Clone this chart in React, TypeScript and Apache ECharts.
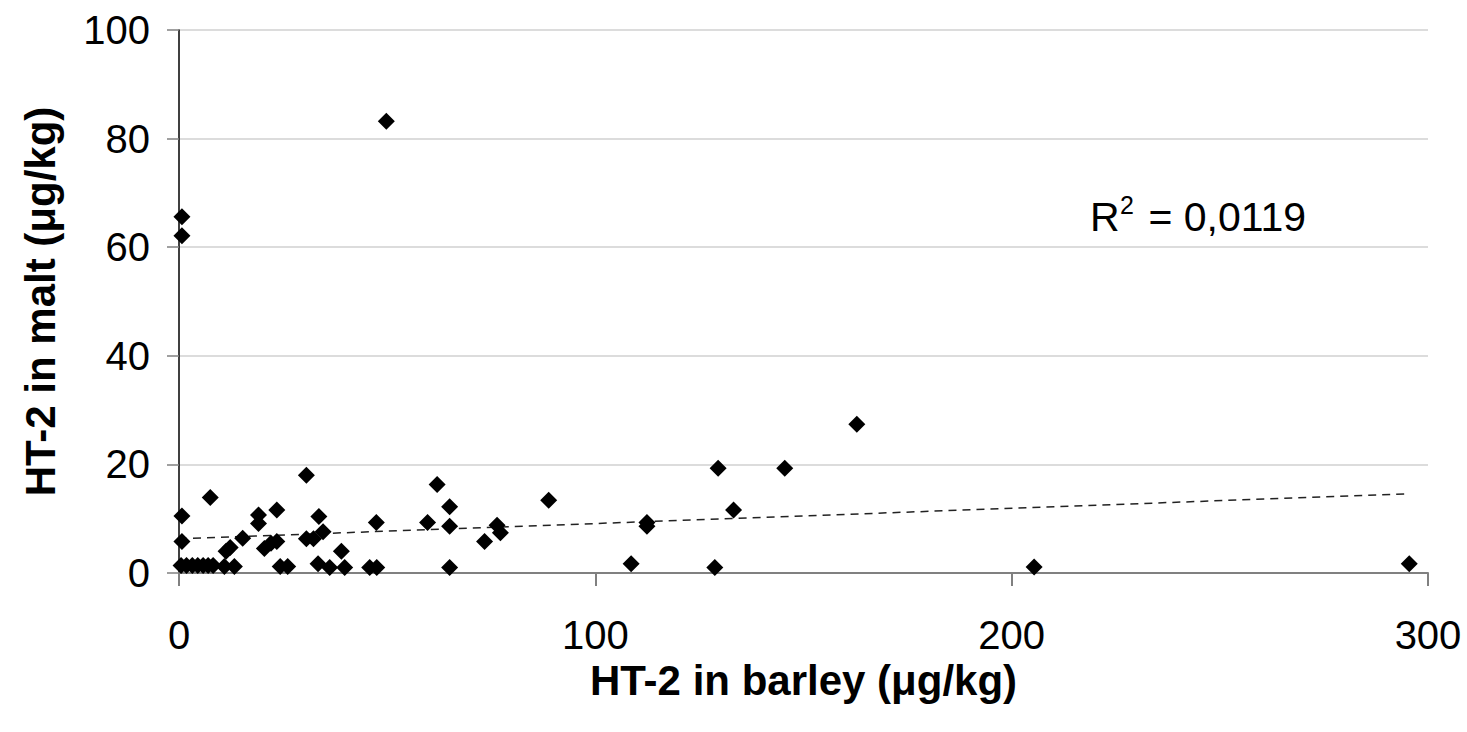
import React, { useEffect, useRef } from "react";
import * as echarts from "echarts";

// HT-2 in barley (x) vs HT-2 in malt (y), µg/kg
const barleyValues: number[] = [
  0.7, 0.7, 0.7, 0.7,
  0.5, 1.8, 3.2, 4.5, 5.8, 7.0, 8.2,
  7.5, 11.3, 12.3, 10.9, 13.3, 15.3, 19.1, 19.1, 20.5, 22.1,
  23.5, 23.5, 24.3, 26.1, 30.6, 30.6, 32.3, 33.6, 34.6, 33.4,
  36.2, 39.0, 39.8, 45.8, 47.5, 47.4, 49.8, 59.7, 62.0, 65.0,
  65.0, 65.0, 73.4, 76.4, 77.2, 88.8, 108.6, 112.4, 112.4, 128.7,
  129.5, 133.2, 145.5, 162.8, 205.4, 295.5,
];
const maltValues: number[] = [
  65.6, 62.1, 10.5, 5.8,
  1.4, 1.4, 1.4, 1.4, 1.4, 1.4, 1.4,
  13.9, 4.0, 4.7, 1.2, 1.2, 6.4, 10.7, 9.1, 4.5, 5.5,
  5.8, 11.6, 1.2, 1.2, 18.0, 6.3, 6.3, 10.4, 7.6, 1.7,
  1.0, 4.0, 1.0, 1.0, 1.0, 9.3, 83.2, 9.3, 16.3, 12.2,
  8.6, 1.0, 5.8, 8.8, 7.4, 13.4, 1.7, 9.3, 8.6, 1.0,
  19.3, 11.6, 19.3, 27.4, 1.1, 1.7,
];

// Linear trend line endpoints (as drawn in the reference)
const trendX: number[] = [0, 295.5];
const trendY: number[] = [6.3, 14.6];

const xTicks = { min: 0, max: 300, interval: 100 };
const yTicks = { min: 0, max: 100, interval: 20 };

const xTitle = "HT-2 in barley (μg/kg)";
const yTitle = "HT-2 in malt (μg/kg)";
const r2Label = "0,0119";

export default function App() {
  const ref = useRef<HTMLDivElement>(null);

  useEffect(() => {
    if (!ref.current) return;
    const chart = echarts.init(ref.current, undefined, { renderer: "svg" });
    const font = "'Liberation Sans', Arial, sans-serif";
    const points = barleyValues.map((x, i) => [x, maltValues[i]]);
    const trend = trendX.map((x, i) => [x, trendY[i]]);

    chart.setOption({
      animation: false,
      backgroundColor: "#ffffff",
      textStyle: { fontFamily: font },
      grid: { left: 179, right: 39, top: 30, bottom: 159, containLabel: false },
      xAxis: {
        type: "value",
        min: xTicks.min,
        max: xTicks.max,
        interval: xTicks.interval,
        name: xTitle,
        nameLocation: "middle",
        nameGap: 86,
        nameTextStyle: { fontSize: 42, fontWeight: "bold", color: "#000", fontFamily: font },
        axisLine: { show: true, onZero: false, lineStyle: { color: "#808080", width: 2 } },
        axisTick: { show: true, length: 13, lineStyle: { color: "#808080", width: 2 } },
        axisLabel: { fontSize: 40, color: "#000", margin: 42, fontFamily: font },
        splitLine: { show: false },
      },
      yAxis: {
        type: "value",
        min: yTicks.min,
        max: yTicks.max,
        interval: yTicks.interval,
        name: yTitle,
        nameLocation: "middle",
        nameRotate: 90,
        nameGap: 118,
        nameTextStyle: { fontSize: 42, fontWeight: "bold", color: "#000", fontFamily: font },
        axisLine: { show: true, lineStyle: { color: "#000", width: 1.5 } },
        axisTick: { show: true, length: 12, lineStyle: { color: "#808080", width: 1.5 } },
        axisLabel: { fontSize: 40, color: "#000", margin: 29, fontFamily: font },
        splitLine: { show: true, lineStyle: { color: "#d0d0d0", width: 1.5 } },
      },
      graphic: [
        {
          type: "text",
          left: 1090,
          top: 196,
          style: { text: "R", fontSize: 41, fill: "#000", fontFamily: font },
        },
        {
          type: "text",
          left: 1120,
          top: 192,
          style: { text: "2", fontSize: 25, fill: "#000", fontFamily: font },
        },
        {
          type: "text",
          left: 1137,
          top: 196,
          style: { text: " = " + r2Label, fontSize: 41, fill: "#000", fontFamily: font },
        },
      ],
      series: [
        {
          type: "line",
          data: trend,
          symbol: "none",
          silent: true,
          lineStyle: { color: "#222", width: 1.5, type: [8, 6] },
          z: 1,
        },
        {
          type: "scatter",
          data: points,
          symbol: "diamond",
          symbolSize: 17,
          itemStyle: { color: "#000", opacity: 1 },
          z: 2,
        },
      ],
    });

    return () => chart.dispose();
  }, []);

  return (
    <div
      ref={ref}
      style={{ position: "fixed", left: 0, top: 0, width: 1467, height: 732, background: "#fff" }}
    />
  );
}
